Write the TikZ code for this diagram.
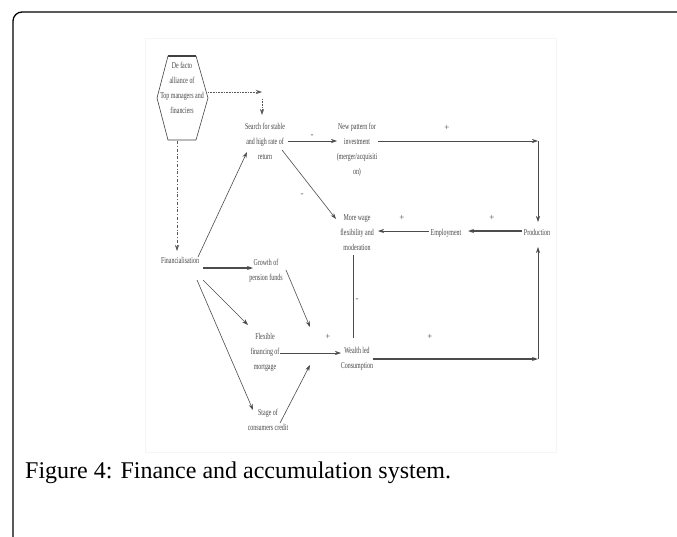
\documentclass[tikz,border=0pt]{standalone}
\usepackage{fontspec}
\setmainfont{Liberation Serif}
\usetikzlibrary{arrows.meta}
\newcommand\cn[1]{\scalebox{0.66}[1]{\begin{tabular}{@{}c@{}}#1\end{tabular}}}
\tikzset{
  lbl/.style={inner sep=0pt, text=black!72, font=\fontsize{9}{15}\selectfont},
  sgn/.style={inner sep=0pt, text=black!70, font=\fontsize{9}{10}\selectfont},
  con/.style={draw=black!70, line width=0.6pt, -{Stealth[length=6pt,width=4pt]}},
  thick con/.style={con, line width=1.1pt},
  plain con/.style={draw=black!70, line width=0.6pt},
  dcon/.style={draw=black!65, line width=0.6pt, densely dotted, -{Stealth[length=6pt,width=4pt]}},
}
\begin{document}
\begin{tikzpicture}[x=1pt,y=-1pt]
\useasboundingbox (0,0) rectangle (677,536);
\clip (0,0) rectangle (677,536);
\fill[white] (0,0) rectangle (677,536);
% frame
\draw[line width=1.3pt, rounded corners=9pt] (13,560) -- (13,12) -- (700,12);
% faint inner picture border
\draw[black!4, line width=0.6pt] (145,38) rectangle (556,452);
% hexagon
\draw[black!75, line width=0.6pt] (168,56) -- (196,56) -- (208,98) -- (196,140) -- (168,140) -- (157,98) -- cycle;
\draw[black!75, line width=1.1pt] (168,56) -- (196,56);
\node[lbl] (hex) at (182,88) {\cn{De facto\\alliance of\\Top managers and\\financiers}};
% nodes
\node[lbl] (search) at (265,141) {\cn{Search for stable\\and high rate of\\return}};
\node[lbl] (newpat) at (357,149) {\cn{New pattern for\\investment\\(merger/acquisiti\\on)}};
\node[lbl] (prod) at (537,232) {\cn{Production}};
\node[lbl] (empl) at (446,232) {\cn{Employment}};
\node[lbl] (wage) at (357,232) {\cn{More wage\\flexibility and\\moderation}};
\node[lbl] (fin) at (180,260) {\cn{Financialisation}};
\node[lbl] (growth) at (266,270) {\cn{Growth of\\pension funds}};
\node[lbl] (flex) at (265,351) {\cn{Flexible\\financing of\\mortgage}};
\node[lbl] (wealth) at (357,358) {\cn{Wealth led\\Consumption}};
\node[lbl] (stage) at (268,420) {\cn{Stage of\\consumers credit}};
% coordinates for connector ends
\coordinate (hexR) at (208,92);
\coordinate (dotT) at (262,92);
\coordinate (dotA) at (262,99);
\coordinate (dotB) at (262,115);
\coordinate (hexB) at (177,141);
\coordinate (finT) at (177,251);
\coordinate (s1) at (288,141);
\coordinate (n1) at (337,141);
\coordinate (n2) at (378,141);
\coordinate (c1) at (538,141);
\coordinate (prodT) at (538,222);
\coordinate (prodB) at (538,247);
\coordinate (c2) at (538,359);
\coordinate (p1) at (522,231);
\coordinate (e1) at (468,231);
\coordinate (e2) at (429,231);
\coordinate (w1) at (378,231);
\coordinate (s2) at (282,150);
\coordinate (w2) at (336,219);
\coordinate (f1) at (198,257);
\coordinate (s3) at (247,152);
\coordinate (w3) at (353,255);
\coordinate (wl1) at (353,338);
\coordinate (f2) at (203,268);
\coordinate (g1) at (253,268);
\coordinate (g2) at (286,270);
\coordinate (wl2) at (310,327);
\coordinate (f3) at (203,280);
\coordinate (fl1) at (248,325);
\coordinate (fl2) at (280,353);
\coordinate (wl3) at (341,353);
\coordinate (f4) at (197,280);
\coordinate (st1) at (253,410);
\coordinate (st2) at (280,423);
\coordinate (wl4) at (310,365);
\coordinate (wl5) at (373,359);
% connectors
\draw[dcon] (hexR) -- (dotT);
\draw[dcon] (dotA) -- (dotB);
\draw[dcon, dash dot] (hexB) -- (finT);
\draw[con] (s1) -- (n1);
\draw[con] (n2) -- (c1);
\draw[con] (c1) -- (prodT);
\draw[thick con] (p1) -- (e1);
\draw[con] (e2) -- (w1);
\draw[con] (s2) -- (w2);
\draw[con] (f1) -- (s3);
\draw[plain con] (w3) -- (wl1);
\draw[thick con] (f2) -- (g1);
\draw[con] (g2) -- (wl2);
\draw[con] (f3) -- (fl1);
\draw[con] (fl2) -- (wl3);
\draw[con] (f4) -- (st1);
\draw[con] (st2) -- (wl4);
\draw[thick con] (wl5) -- (c2);
\draw[con] (c2) -- (prodB);
% signs
\node[sgn] (m1) at (312,136) {-};
\node[sgn] (pl1) at (447,128) {+};
\node[sgn] (m2) at (302,195) {-};
\node[sgn] (pl2) at (402,218) {+};
\node[sgn] (pl3) at (492,218) {+};
\node[sgn] (m3) at (357,300) {-};
\node[sgn] (pl4) at (328,337) {+};
\node[sgn] (pl5) at (430,337) {+};
% caption
\node[anchor=base west, inner sep=0pt, font=\fontsize{24}{27}\selectfont] (cap) at (25,478) {Figure 4: Finance and accumulation system.};
\end{tikzpicture}
\end{document}
